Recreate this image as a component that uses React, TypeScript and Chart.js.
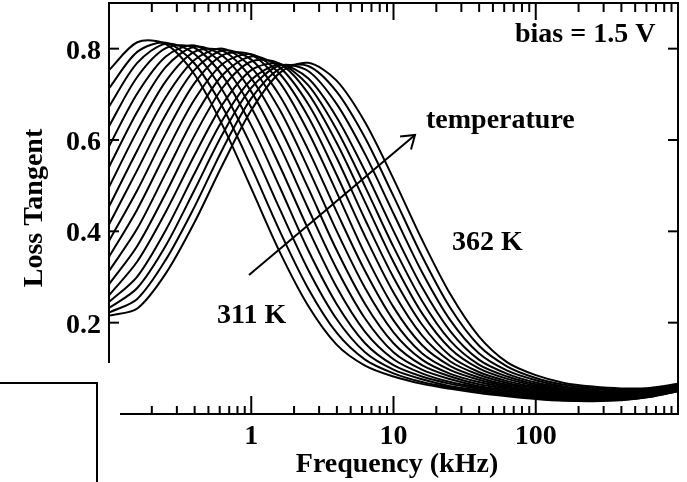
import React, { useEffect, useRef } from "react";
import { Chart, registerables } from "chart.js";

Chart.register(...registerables);

// Measurement frequencies (kHz), five points per decade
const FREQ_KHZ = [0.1, 0.158, 0.251, 0.398, 0.631, 1, 1.585, 2.512, 3.981, 6.31, 10, 15.85, 25.12, 39.81, 63.1, 100, 158.5, 251.2, 398.1, 631, 1000];

// Loss tangent at each frequency, one list per temperature (K)
const T311 = [0.753, 0.814, 0.810, 0.744, 0.631, 0.494, 0.355, 0.237, 0.152, 0.106, 0.082, 0.066, 0.055, 0.046, 0.039, 0.033, 0.029, 0.028, 0.030, 0.037, 0.050];
const T314 = [0.713, 0.793, 0.813, 0.768, 0.671, 0.541, 0.401, 0.275, 0.178, 0.119, 0.089, 0.070, 0.058, 0.049, 0.041, 0.035, 0.030, 0.029, 0.031, 0.038, 0.050];
const T317 = [0.673, 0.769, 0.811, 0.789, 0.708, 0.587, 0.449, 0.316, 0.208, 0.135, 0.097, 0.076, 0.061, 0.052, 0.043, 0.037, 0.032, 0.031, 0.032, 0.039, 0.051];
const T320 = [0.630, 0.738, 0.801, 0.802, 0.740, 0.632, 0.497, 0.359, 0.241, 0.155, 0.107, 0.082, 0.066, 0.055, 0.046, 0.039, 0.034, 0.032, 0.033, 0.039, 0.052];
const T323 = [0.586, 0.702, 0.783, 0.807, 0.765, 0.671, 0.543, 0.405, 0.278, 0.180, 0.120, 0.089, 0.070, 0.058, 0.049, 0.041, 0.036, 0.033, 0.034, 0.040, 0.053];
const T326 = [0.541, 0.662, 0.760, 0.804, 0.784, 0.706, 0.587, 0.450, 0.318, 0.209, 0.135, 0.097, 0.076, 0.061, 0.052, 0.043, 0.038, 0.035, 0.035, 0.041, 0.054];
const T329 = [0.497, 0.620, 0.729, 0.793, 0.795, 0.735, 0.628, 0.495, 0.359, 0.241, 0.155, 0.107, 0.082, 0.065, 0.055, 0.046, 0.040, 0.037, 0.037, 0.042, 0.054];
const T332 = [0.454, 0.577, 0.694, 0.775, 0.800, 0.759, 0.666, 0.538, 0.401, 0.276, 0.179, 0.119, 0.088, 0.070, 0.058, 0.048, 0.042, 0.038, 0.038, 0.043, 0.055];
const T335 = [0.415, 0.534, 0.656, 0.753, 0.796, 0.776, 0.697, 0.579, 0.443, 0.313, 0.205, 0.133, 0.096, 0.075, 0.061, 0.051, 0.044, 0.040, 0.039, 0.044, 0.056];
const T338 = [0.379, 0.490, 0.615, 0.724, 0.786, 0.787, 0.726, 0.618, 0.486, 0.350, 0.234, 0.151, 0.105, 0.080, 0.064, 0.054, 0.046, 0.042, 0.041, 0.045, 0.057];
const T341 = [0.344, 0.448, 0.572, 0.688, 0.767, 0.788, 0.745, 0.651, 0.524, 0.389, 0.266, 0.172, 0.115, 0.086, 0.068, 0.057, 0.048, 0.044, 0.043, 0.046, 0.058];
const T344 = [0.313, 0.406, 0.528, 0.650, 0.743, 0.783, 0.759, 0.679, 0.561, 0.426, 0.299, 0.196, 0.127, 0.092, 0.072, 0.059, 0.051, 0.046, 0.044, 0.048, 0.058];
const T347 = [0.284, 0.368, 0.484, 0.609, 0.715, 0.772, 0.767, 0.702, 0.594, 0.464, 0.333, 0.221, 0.143, 0.100, 0.077, 0.062, 0.053, 0.048, 0.046, 0.049, 0.059];
const T350 = [0.260, 0.334, 0.443, 0.566, 0.679, 0.753, 0.767, 0.720, 0.623, 0.498, 0.366, 0.248, 0.160, 0.108, 0.082, 0.065, 0.055, 0.049, 0.047, 0.050, 0.060];
const T353 = [0.245, 0.301, 0.403, 0.526, 0.645, 0.732, 0.765, 0.735, 0.650, 0.532, 0.401, 0.278, 0.181, 0.119, 0.088, 0.069, 0.058, 0.051, 0.049, 0.052, 0.061];
const T356 = [0.232, 0.276, 0.369, 0.490, 0.614, 0.714, 0.763, 0.751, 0.679, 0.569, 0.439, 0.311, 0.205, 0.133, 0.095, 0.074, 0.060, 0.054, 0.051, 0.053, 0.063];
const T359 = [0.222, 0.252, 0.338, 0.453, 0.581, 0.691, 0.756, 0.762, 0.706, 0.605, 0.477, 0.346, 0.232, 0.150, 0.104, 0.079, 0.064, 0.057, 0.053, 0.055, 0.064];
const T362 = [0.215, 0.231, 0.308, 0.419, 0.547, 0.665, 0.747, 0.769, 0.730, 0.639, 0.515, 0.382, 0.262, 0.170, 0.113, 0.085, 0.068, 0.060, 0.056, 0.057, 0.066];

const TEMPERATURES = [311, 314, 317, 320, 323, 326, 329, 332, 335, 338, 341, 344, 347, 350, 353, 356, 359, 362];
const SERIES = [T311, T314, T317, T320, T323, T326, T329, T332, T335, T338, T341, T344, T347, T350, T353, T356, T359, T362];

// Axis ticks
const X_MAJOR = [1, 10, 100];
const X_LABELS = ["1", "10", "100"];
const X_MINOR = [0.2, 0.3, 0.4, 0.5, 0.6, 0.7, 0.8, 0.9, 2, 3, 4, 5, 6, 7, 8, 9, 20, 30, 40, 50, 60, 70, 80, 90, 200, 300, 400, 500, 600, 700, 800, 900];
const Y_TICKS = [0.2, 0.4, 0.6, 0.8];
const Y_LABELS = ["0.2", "0.4", "0.6", "0.8"];

const FONT = 'bold 28px "Liberation Serif", "Times New Roman", Times, serif';

const decorations = {
  id: "decorations",
  afterDraw(chart: any) {
    const { ctx, chartArea: a, scales } = chart;
    const xs = scales.x;
    const ys = scales.y;
    const seg = (x1: number, y1: number, x2: number, y2: number) => {
      ctx.beginPath();
      ctx.moveTo(x1, y1);
      ctx.lineTo(x2, y2);
      ctx.stroke();
    };
    ctx.save();
    ctx.strokeStyle = "#000";
    ctx.fillStyle = "#000";
    ctx.lineWidth = 2;
    ctx.lineCap = "butt";

    // frame: left spine stops short, bottom spine starts a little in
    seg(a.left - 1, a.top, a.right + 1, a.top);
    seg(a.right, a.top, a.right, a.bottom + 1);
    seg(a.left, a.top, a.left, a.bottom - 51);
    seg(a.left + 11, a.bottom, a.right + 1, a.bottom);

    // frequency ticks, pointing inward on top and bottom
    X_MAJOR.forEach((v) => {
      const px = xs.getPixelForValue(v);
      seg(px, a.top, px, a.top + 17);
      seg(px, a.bottom, px, a.bottom - 18);
    });
    X_MINOR.forEach((v) => {
      const px = xs.getPixelForValue(v);
      seg(px, a.top, px, a.top + 9);
      seg(px, a.bottom, px, a.bottom - 8);
    });

    // loss tangent ticks on both sides
    Y_TICKS.forEach((v) => {
      const py = ys.getPixelForValue(v);
      seg(a.left, py, a.left + 10, py);
      seg(a.right - 10, py, a.right, py);
    });

    // corner box
    seg(0, a.bottom - 31, 98, a.bottom - 31);
    seg(97, a.bottom - 32, 97, chart.height);

    ctx.font = FONT;
    ctx.textBaseline = "alphabetic";

    ctx.textAlign = "right";
    Y_TICKS.forEach((v, i) => {
      ctx.fillText(Y_LABELS[i], a.left - 8, ys.getPixelForValue(v) + 10);
    });

    ctx.textAlign = "center";
    X_MAJOR.forEach((v, i) => {
      ctx.fillText(X_LABELS[i], xs.getPixelForValue(v), a.bottom + 30);
    });
    ctx.fillText("Frequency (kHz)", 397, a.bottom + 58);

    ctx.save();
    ctx.translate(42, 208);
    ctx.rotate(-Math.PI / 2);
    ctx.textAlign = "center";
    ctx.fillText("Loss Tangent", 0, 0);
    ctx.restore();

    ctx.textAlign = "left";
    ctx.fillText("bias = 1.5 V", 515, 42);
    ctx.fillText("temperature", 426, 128);
    ctx.fillText("362 K", 452, 250);
    ctx.fillText("311 K", 217, 323);

    // temperature arrow
    const x0 = 249, y0 = 275, x1 = 415, y1 = 135;
    seg(x0, y0, x1, y1);
    const ang = Math.atan2(y0 - y1, x0 - x1);
    const len = 15;
    const spread = 0.6;
    ctx.beginPath();
    ctx.moveTo(x1 + len * Math.cos(ang - spread), y1 + len * Math.sin(ang - spread));
    ctx.lineTo(x1, y1);
    ctx.lineTo(x1 + len * Math.cos(ang + spread), y1 + len * Math.sin(ang + spread));
    ctx.stroke();

    ctx.restore();
  },
};

export default function App() {
  const canvasRef = useRef<HTMLCanvasElement | null>(null);

  useEffect(() => {
    const canvas = canvasRef.current;
    if (!canvas) return;
    const chart = new Chart(canvas, {
      type: "line",
      data: {
        datasets: SERIES.map((vals, i) => ({
          label: `${TEMPERATURES[i]} K`,
          data: FREQ_KHZ.map((f, j) => ({ x: f, y: vals[j] })),
          borderColor: "#000",
          borderWidth: 2,
          pointRadius: 0,
          tension: 0.3,
          fill: false,
        })),
      },
      options: {
        responsive: false,
        animation: false,
        layout: { padding: { left: 109, top: 3, right: 9, bottom: 68 } },
        plugins: { legend: { display: false }, tooltip: { enabled: false } },
        scales: {
          x: { type: "logarithmic", min: 0.1, max: 1000, display: false },
          y: { type: "linear", min: 0, max: 0.9, display: false },
        },
      },
      plugins: [decorations],
    });
    return () => chart.destroy();
  }, []);

  return (
    <div style={{ position: "fixed", left: 0, top: 0, width: 687, height: 482, background: "#fff" }}>
      <canvas ref={canvasRef} width={687} height={482} style={{ display: "block" }} />
    </div>
  );
}
